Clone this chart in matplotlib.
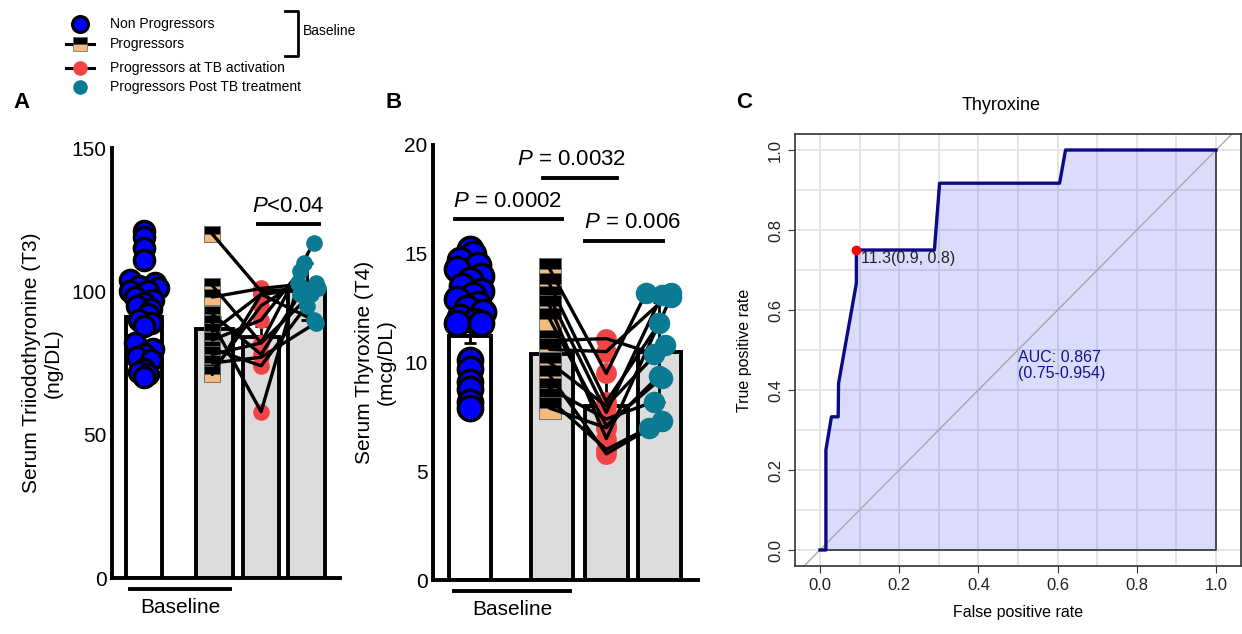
import matplotlib
matplotlib.use("Agg")
import matplotlib.pyplot as plt
import matplotlib.transforms as mtransforms

plt.rcParams["font.family"] = ["Liberation Sans", "DejaVu Sans"]
plt.rcParams["mathtext.fontset"] = "custom"
plt.rcParams["mathtext.it"] = "Liberation Sans:italic"
plt.rcParams["mathtext.rm"] = "Liberation Sans"

W, H = 1242, 634
BLUE, TAN, RED, TEAL, GREY = "#0000ff", "#f3bb7e", "#f24444", "#0b7b93", "#dcdcdc"

# ---------------- data ----------------
groups = ["Non Progressors", "Progressors", "Progressors at TB activation", "Progressors Post TB treatment"]

# panel A : T3 (ng/DL)
barA = [91, 87, 84, 100]
errA = [3, 4, 4, 10]
nonprogA = [121, 119, 115, 111, 104, 103, 102, 101, 100, 100, 98, 97, 96, 95,
            94, 92, 90, 89, 88, 82, 80, 78, 77, 76, 73, 72, 71, 70]
progA = [120, 102, 98, 92, 89, 86, 83, 80, 78, 75, 72, 71]
actA = [100, 82, 101, 78, 58, 99, 90, 74, 82, 77, 95, 99]
postA = [101, 117, 103, 99, 110, 90, 107, 95, 99, 89, 103, 101]

# panel B : T4 (mcg/DL)
barB = [11.2, 10.4, 8.0, 10.5]
errB = [0.3, 1.5, 1.6, 2.3]
nonprogB = [15.2, 15.0, 14.7, 14.5, 14.3, 14.0, 13.8, 13.5, 13.3, 13.1, 12.9, 12.7,
            12.5, 12.3, 12.1, 11.9, 11.8, 11.8, 10.1, 9.7, 9.1, 8.8, 8.2, 7.9]
progB = [14.3, 13.6, 13.0, 12.6, 12.0, 11.0, 10.6, 10.0, 9.4, 8.8, 8.3, 7.9]
actB = [9.5, 8.2, 7.7, 6.5, 7.1, 11.1, 10.5, 8.0, 5.8, 7.4, 6.0, 7.0]
postB = [13.2, 11.8, 13.1, 13.0, 9.3, 10.4, 13.2, 10.8, 7.3, 8.2, 7.0, 9.4]

# panel C : ROC for thyroxine
fpr = [0, 0.015, 0.015, 0.029, 0.046, 0.047, 0.092, 0.092, 0.289, 0.302, 0.605, 0.62, 1.0]
tpr = [0, 0, 0.25, 0.333, 0.333, 0.417, 0.667, 0.75, 0.75, 0.917, 0.917, 1.0, 1.0]
best = (0.092, 0.75)

# scatter jitter (layout only)
xpos = [0, 1.55, 2.57, 3.57]
jitA_np = [0, 0, 0, 0, -0.3, 0.25, -0.1, 0.3, -0.3, 0.1, -0.2, 0.2, 0, -0.15,
           0.15, 0.1, -0.1, 0.15, 0, -0.2, 0.2, 0, -0.15, 0.15, 0, -0.1, 0.1, 0]
jitA_post = [-0.1, 0.15, 0.2, -0.15, -0.05, 0.15, -0.15, 0.0, 0.1, 0.2, -0.2, 0.25]
jitB_np = [0, 0.05, -0.2, 0.15, -0.25, 0.2, 0, -0.15, 0.2, 0.05, -0.25, 0.15,
           -0.05, 0.25, -0.2, 0.1, -0.25, 0.2, 0, 0, 0, 0, 0, 0]
jitB_post = [-0.25, 0.0, 0.05, 0.22, 0.05, -0.1, 0.22, 0.1, 0.05, -0.1, -0.2, 0.0]

fig = plt.figure(figsize=(W / 100, H / 100), dpi=100)


def px_axes(l, t, r, b):
    return fig.add_axes([l / W, 1 - b / H, (r - l) / W, (b - t) / H])


def dot_panel(ax, bars, errs, nonprog, prog, act, post, jit_np, jit_post, sz, ymax, yticks, ylabel):
    ax.bar(xpos, bars, width=0.8, color=["white", GREY, GREY, GREY], edgecolor="black", lw=2.8, zorder=1)
    ax.errorbar(xpos, bars, yerr=errs, fmt="none", ecolor="black", elinewidth=2, capsize=4, capthick=2, zorder=2)
    ax.scatter([xpos[0] + j for j in jit_np], nonprog, s=sz[0] ** 2, c=BLUE, edgecolors="black",
               linewidths=2.5, zorder=3)
    xs = xpos[1] - 0.05
    ax.plot([xs] * len(prog), prog, ls="none", marker="s", ms=sz[1], fillstyle="bottom", mfc=TAN,
            mfcalt="black", mec="#666", mew=0.6, zorder=2.5)
    ax.scatter([xpos[2]] * len(act), act, s=sz[2] ** 2, c=RED, lw=0, zorder=2.7)
    for p, a, t, j in zip(prog, act, post, jit_post):
        ax.plot([xs, xpos[2], xpos[3] + j], [p, a, t], color="black", lw=2.4, zorder=3.2,
                solid_capstyle="round")
    ax.scatter([xpos[3] + j for j in jit_post], post, s=sz[3] ** 2, c=TEAL, lw=0, zorder=3.4)
    ax.set_xlim(-0.7, 4.3)
    ax.set_ylim(0, ymax)
    ax.set_yticks(yticks)
    ax.set_xticks([])
    for s in ["top", "right"]:
        ax.spines[s].set_visible(False)
    for s in ["left", "bottom"]:
        ax.spines[s].set_linewidth(2.8)
    ax.tick_params(axis="y", length=0, labelsize=15, pad=4)
    ax.set_ylabel(ylabel, fontsize=15, labelpad=6)
    tr = mtransforms.blended_transform_factory(ax.transData, ax.transAxes)
    ax.plot([-0.3, 1.88], [-0.025, -0.025], color="black", lw=2.8, transform=tr, clip_on=False)
    ax.text(0.79, -0.068, "Baseline", transform=tr, ha="center", va="center", fontsize=15)
    ax.patch.set_alpha(0)


def sig(ax, x0, x1, y, ty, label, tx=None):
    ax.plot([x0, x1], [y, y], color="black", lw=2.8, clip_on=False)
    ax.text((x0 + x1) / 2 if tx is None else tx, ty, label, ha="center", va="center", fontsize=16, clip_on=False)


# ---------------- panel A ----------------
axA = px_axes(112, 148, 340, 578)
dot_panel(axA, barA, errA, nonprogA, progA, actA, postA, jitA_np, jitA_post,
          (14.5, 11.5, 12, 12), 150, [0, 50, 100, 150], "Serum Triiodothyronine (T3)\n(ng/DL)")
sig(axA, 2.51, 3.83, 123.5, 129.5, r"$\mathit{P}$<0.04")

# ---------------- panel B ----------------
axB = px_axes(433, 145, 698, 580)
dot_panel(axB, barB, errB, nonprogB, progB, actB, postB, jitB_np, jitB_post,
          (17.5, 16, 15, 15.5), 20, [0, 5, 10, 15, 20], "Serum Thyroxine (T4)\n(mcg/DL)")
sig(axB, -0.28, 1.73, 16.6, 17.4, r"$\mathit{P}$ = 0.0002", tx=0.70)
sig(axB, 1.38, 2.77, 18.5, 19.35, r"$\mathit{P}$ = 0.0032", tx=1.92)
sig(axB, 2.17, 3.64, 15.6, 16.45, r"$\mathit{P}$ = 0.006", tx=3.06)

# ---------------- panel C ----------------
axC = px_axes(795, 134, 1241, 566)
axC.set_xlim(-0.063, 1.063)
axC.set_ylim(-0.04, 1.04)
axC.set_xticks([0, 0.2, 0.4, 0.6, 0.8, 1.0])
axC.set_yticks([0, 0.2, 0.4, 0.6, 0.8, 1.0])
axC.set_xticks([i / 10 for i in range(11)], minor=True)
axC.set_yticks([i / 10 for i in range(11)], minor=True)
axC.grid(True, which="both", color="#e4e4e4", lw=1.3, zorder=0)
axC.set_axisbelow(True)
axC.tick_params(which="minor", length=0)
axC.tick_params(which="major", length=5, color="#333", labelsize=12, labelcolor="#222")
axC.set_yticklabels(["0.0", "0.2", "0.4", "0.6", "0.8", "1.0"], rotation=90, va="center")
axC.set_xticklabels(["0.0", "0.2", "0.4", "0.6", "0.8", "1.0"])
for s in axC.spines.values():
    s.set_color("#333")
    s.set_linewidth(1.2)
axC.fill(fpr + [1.0, 0.0], tpr + [0.0, 0.0], facecolor="#0000ee", alpha=0.14, zorder=1)
axC.plot([0, 1, 1], [0, 0, 1], color="#333", lw=1.2, zorder=2)
axC.axline((0, 0), (1, 1), color="#a8a8a8", lw=1.0, zorder=2)
axC.plot(fpr, tpr, color="#0a0a85", lw=2.4, zorder=3)
axC.plot(*best, "o", color="#ff0000", ms=6, zorder=4)
axC.text(best[0] + 0.012, best[1] - 0.02, "11.3(0.9, 0.8)", fontsize=11.5, color="#222", va="center")
axC.text(0.5, 0.462, "AUC: 0.867\n(0.75-0.954)", fontsize=11.5, color="#12128a", va="center", ha="left",
         linespacing=1.1)
axC.set_xlabel("False positive rate", fontsize=11.5, labelpad=9)
axC.set_ylabel("True positive rate", fontsize=11.5, labelpad=12)
fig.text(1001 / W, 1 - 106 / H, "Thyroxine", fontsize=13, ha="center", va="center")

# ---------------- overlay: legend, panel letters ----------------
ov = fig.add_axes([0, 0, 1, 1])
ov.set_xlim(0, W)
ov.set_ylim(H, 0)
ov.axis("off")
ov.patch.set_alpha(0)
rows = [24, 44, 68, 87]
ov.plot(80, rows[0], "o", ms=11.5, mfc=BLUE, mec="black", mew=2.2)
ov.plot([66, 94], [rows[1], rows[1]], color="black", lw=2.2)
ov.plot(80, rows[1], "s", ms=10, fillstyle="bottom", mfc=TAN, mfcalt="black", mec="#666", mew=0.5)
ov.plot([66, 94], [rows[2], rows[2]], color="black", lw=2.2)
ov.plot(80, rows[2], "o", ms=10.5, color=RED, mew=0)
ov.plot(80, rows[3], "o", ms=10.5, color=TEAL, mew=0)
for y, g in zip(rows, groups):
    ov.text(110, y, g, fontsize=10, va="center", ha="left")
ov.plot([285, 298, 298, 285], [11, 11, 56, 56], color="black", lw=2)
ov.text(303, 31, "Baseline", fontsize=10, va="center", ha="left")
for x, y, lab in [(22, 103, "A"), (394, 102, "B"), (744, 103, "C")]:
    ov.text(x, y, lab, fontsize=16, fontweight="bold", ha="center", va="center")

fig.savefig("out.png", dpi=100)
